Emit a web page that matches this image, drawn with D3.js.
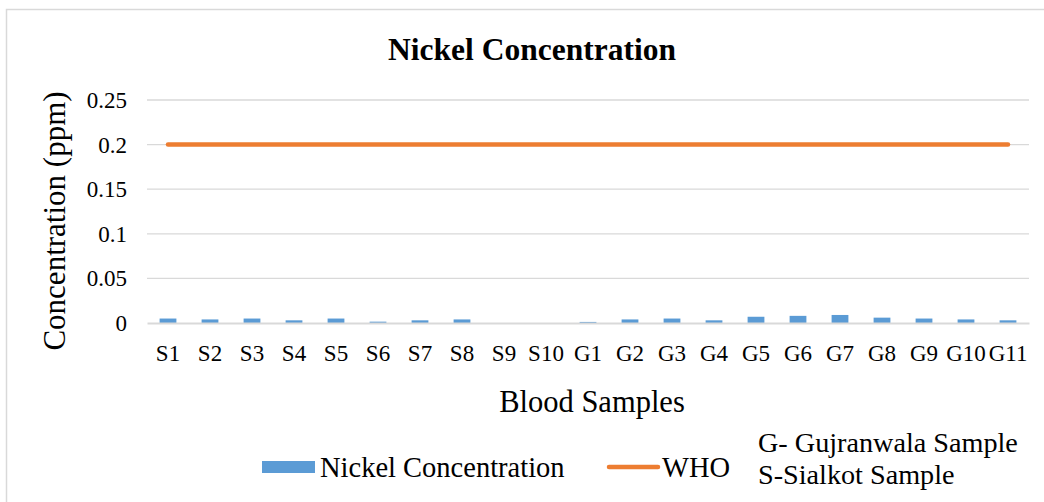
<!DOCTYPE html>
<html>
<head>
<meta charset="utf-8">
<script src="https://cdn.jsdelivr.net/npm/d3@7"></script>
<style>
  html, body { margin: 0; padding: 0; background: #fff; }
  svg { display: block; }
  svg text { font-family: "Liberation Serif", "Times New Roman", Times, serif !important; fill: #000; }
</style>
</head>
<body>
<svg id="chart" width="1044" height="502"></svg>
<script>
// Sample labels (S = Sialkot, G = Gujranwala)
const categories = ["S1","S2","S3","S4","S5","S6","S7","S8","S9","S10",
                    "G1","G2","G3","G4","G5","G6","G7","G8","G9","G10","G11"];
// Measured nickel concentration (ppm)
const nickel = [0.005,0.004,0.005,0.003,0.005,0.0015,0.003,0.004,0,0,
                0.0012,0.004,0.005,0.003,0.007,0.008,0.009,0.006,0.005,0.004,0.003];
// WHO permissible limit (ppm)
const who = categories.map(() => 0.2);
const yTicks = [0, 0.05, 0.1, 0.15, 0.2, 0.25];

const svg = d3.select("#chart");
const W = 1044, H = 502;
const plot = { left: 147, right: 1029, top: 100, bottom: 323 };

// chart frame
svg.append("rect")
  .attr("x", 6.5).attr("y", 9.5)
  .attr("width", W + 10).attr("height", H + 10)
  .attr("fill", "#fff").attr("stroke", "#d9d9d9").attr("stroke-width", 1.5);

const x = d3.scaleBand().domain(categories)
  .range([plot.left, plot.right]).paddingInner(0.6).paddingOuter(0.3);
const y = d3.scaleLinear().domain([0, 0.25]).range([plot.bottom, plot.top]);

// gridlines
svg.append("g")
  .selectAll("line").data(yTicks.filter(d => d > 0)).join("line")
  .attr("x1", plot.left).attr("x2", plot.right)
  .attr("y1", d => y(d)).attr("y2", d => y(d))
  .attr("stroke", "#d9d9d9").attr("stroke-width", 1.3);

// y axis labels
const yAxis = d3.axisLeft(y).tickValues(yTicks).tickSize(0).tickPadding(0)
  .tickFormat(d => d3.format("")(+d.toFixed(2)));
svg.append("g")
  .attr("transform", `translate(127,0)`)
  .call(yAxis)
  .call(g => g.select(".domain").remove())
  .call(g => g.selectAll("text")
    .attr("font-size", 23).attr("dy", "0.33em"));

// bars
svg.append("g")
  .selectAll("rect").data(categories).join("rect")
  .attr("x", (d) => x(d))
  .attr("width", x.bandwidth())
  .attr("y", (d, i) => y(nickel[i]))
  .attr("height", (d, i) => y(0) - y(nickel[i]))
  .attr("fill", "#5b9bd5");

// category axis
const xAxis = d3.axisBottom(x).tickSize(0).tickPadding(0);
svg.append("g")
  .attr("transform", `translate(0,${plot.bottom})`)
  .call(xAxis)
  .call(g => g.select(".domain")
    .attr("stroke", "#d9d9d9").attr("stroke-width", 2))
  .call(g => g.selectAll("text")
    .attr("font-size", 23).attr("y", 38).attr("dy", 0));

// WHO limit line
const line = d3.line()
  .x((d, i) => x(categories[i]) + x.bandwidth() / 2)
  .y(d => y(d));
svg.append("path")
  .datum(who)
  .attr("d", line)
  .attr("fill", "none")
  .attr("stroke", "#ed7d31").attr("stroke-width", 4.5)
  .attr("stroke-linecap", "round");

// title
svg.append("text")
  .attr("x", 532).attr("y", 60)
  .attr("text-anchor", "middle")
  .attr("font-size", 31.5).attr("font-weight", "bold")
  .text("Nickel Concentration");

// axis titles
svg.append("text")
  .attr("transform", "translate(65,221) rotate(-90)")
  .attr("text-anchor", "middle")
  .attr("font-size", 31)
  .text("Concentration (ppm)");

svg.append("text")
  .attr("x", 592).attr("y", 412)
  .attr("text-anchor", "middle")
  .attr("font-size", 30.5)
  .text("Blood Samples");

// legend
const lg = svg.append("g");
lg.append("rect")
  .attr("x", 262).attr("y", 461).attr("width", 53).attr("height", 12)
  .attr("fill", "#5b9bd5");
lg.append("text")
  .attr("x", 320).attr("y", 477)
  .attr("font-size", 28.5)
  .text("Nickel Concentration");
lg.append("line")
  .attr("x1", 609).attr("x2", 658).attr("y1", 467).attr("y2", 467)
  .attr("stroke", "#ed7d31").attr("stroke-width", 4.5)
  .attr("stroke-linecap", "round");
lg.append("text")
  .attr("x", 662).attr("y", 477)
  .attr("font-size", 28.5)
  .text("WHO");
lg.append("text")
  .attr("x", 758).attr("y", 452)
  .attr("font-size", 28.2)
  .text("G- Gujranwala Sample");
lg.append("text")
  .attr("x", 758).attr("y", 484)
  .attr("font-size", 28.2)
  .text("S-Sialkot Sample");
</script>
</body>
</html>
